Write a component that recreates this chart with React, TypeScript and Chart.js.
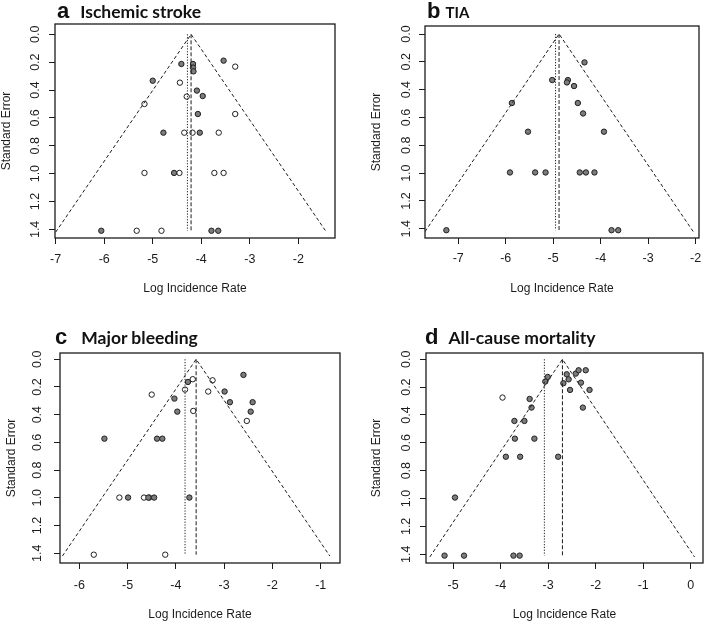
import React, { useEffect, useRef } from "react";
import { Chart, registerables } from "chart.js";

Chart.register(...registerables);

// ---------- Data (log incidence rate, standard error) ----------
// a: Ischemic stroke
const strokeFilledLogIR = [-3.54, -4.41, -4.17, -4.17, -4.16, -5.0, -4.09, -3.97, -4.07, -4.78, -4.03, -4.56, -6.06, -3.79, -3.65];
const strokeFilledSE = [0.189, 0.213, 0.213, 0.239, 0.266, 0.333, 0.404, 0.443, 0.572, 0.706, 0.706, 0.995, 1.41, 1.41, 1.41];
const strokeOpenLogIR = [-3.3, -4.44, -4.3, -5.17, -3.3, -4.35, -4.18, -3.64, -5.17, -4.45, -3.73, -3.54, -5.33, -4.82];
const strokeOpenSE = [0.232, 0.347, 0.447, 0.5, 0.572, 0.706, 0.706, 0.706, 0.995, 0.995, 0.995, 0.995, 1.41, 1.41];
// [dotted estimate, dashed estimate, funnel left end, funnel right end, funnel max SE]
const strokeFunnel = [-4.285, -4.21, -7.0, -1.42, 1.42];

// b: TIA
const tiaFilledLogIR = [-4.34, -5.02, -4.69, -4.71, -4.56, -4.48, -5.87, -4.37, -5.53, -3.93, -5.91, -5.38, -5.16, -4.44, -4.31, -4.13, -7.25, -3.77, -3.63];
const tiaFilledSE = [0.204, 0.331, 0.331, 0.348, 0.374, 0.496, 0.496, 0.571, 0.702, 0.702, 0.995, 0.995, 0.995, 0.995, 0.995, 0.995, 1.41, 1.41, 1.41];
const tiaOpenLogIR: number[] = [];
const tiaOpenSE: number[] = [];
const tiaFunnel = [-4.95, -4.876, -7.7, -2.05, 1.42];

// c: Major bleeding
const bleedFilledLogIR = [-2.6, -3.75, -2.99, -4.03, -3.97, -2.88, -2.41, -2.45, -5.48, -4.39, -4.28, -4.99, -4.57, -4.45, -3.72];
const bleedFilledSE = [0.113, 0.164, 0.233, 0.284, 0.378, 0.31, 0.31, 0.378, 0.573, 0.573, 0.573, 0.998, 0.998, 0.998, 0.998];
const bleedOpenLogIR = [-3.65, -3.24, -3.81, -4.5, -3.33, -3.64, -2.53, -5.17, -4.66, -4.55, -5.7, -4.22];
const bleedOpenSE = [0.144, 0.152, 0.219, 0.255, 0.233, 0.373, 0.445, 0.998, 0.998, 0.998, 1.41, 1.41];
const bleedFunnel = [-3.81, -3.58, -6.35, -0.81, 1.42];

// d: All-cause mortality
const mortFilledLogIR = [-2.42, -2.36, -2.21, -2.61, -2.57, -2.68, -2.31, -2.13, -2.54, -2.27, -3.01, -3.06, -3.39, -3.35, -3.71, -3.5, -3.7, -3.29, -3.89, -3.59, -2.79, -4.96, -5.18, -4.77, -3.73, -3.6];
const mortFilledSE = [0.103, 0.079, 0.079, 0.108, 0.144, 0.172, 0.168, 0.22, 0.22, 0.347, 0.127, 0.16, 0.285, 0.347, 0.443, 0.443, 0.57, 0.57, 0.7, 0.7, 0.7, 0.993, 1.41, 1.41, 1.41, 1.41];
const mortOpenLogIR = [-3.96];
const mortOpenSE = [0.275];
const mortFunnel = [-3.08, -2.7, -5.49, 0.08, 1.42];

// Axis ranges [min, max]
const strokeXRange = [-7.014, -1.244];
const strokeYRange = [-0.074, 1.462];
const tiaXRange = [-7.7, -1.928];
const tiaYRange = [-0.0575, 1.466];
const bleedXRange = [-6.4, -0.6];
const bleedYRange = [-0.045, 1.47];
const mortXRange = [-5.57, 0.257];
const mortYRange = [-0.045, 1.463];

const X_TITLE = "Log Incidence Rate";
const Y_TITLE = "Standard Error";

const AXIS_FONT = "'Liberation Sans', Arial, sans-serif";
const INK = "#1c1c1c";

type Geo = {
  cx: number; cy: number; cw: number; ch: number;
  L: number; T: number; R: number; B: number;
  xtp: number; xtb: number; ytp: number; ytt: number;
};

type Spec = {
  id: string;
  filledX: number[]; filledY: number[];
  openX: number[]; openY: number[];
  funnel: number[];
  xr: number[]; yr: number[];
  geo: Geo;
};

const zip = (xs: number[], ys: number[]) => xs.map((x, i) => ({ x, y: ys[i] }));

const boxPlugin = {
  id: "boxFrame",
  afterDatasetsDraw(chart: any) {
    const { ctx, chartArea } = chart;
    const { left, top, right, bottom } = chartArea;
    ctx.save();
    ctx.strokeStyle = INK;
    ctx.lineWidth = 1.3;
    ctx.strokeRect(left, top, right - left, bottom - top);
    ctx.restore();
  },
};

function FunnelPanel({ spec }: { spec: Spec }) {
  const ref = useRef<HTMLCanvasElement | null>(null);
  const g = spec.geo;
  useEffect(() => {
    if (!ref.current) return;
    const [dotted, dashed, fl, fr, seMax] = spec.funnel;
    const chart = new Chart(ref.current, {
      type: "scatter",
      data: {
        datasets: [
          {
            data: [{ x: fl, y: seMax }, { x: dashed, y: 0 }, { x: fr, y: seMax }],
            showLine: true, borderColor: INK, borderWidth: 1, borderDash: [3.5, 2.5],
            pointRadius: 0, fill: false,
          },
          {
            data: [{ x: dashed, y: 0 }, { x: dashed, y: 1.41 }],
            showLine: true, borderColor: INK, borderWidth: 1, borderDash: [4, 2],
            pointRadius: 0, fill: false,
          },
          {
            data: [{ x: dotted, y: 0 }, { x: dotted, y: 1.41 }],
            showLine: true, borderColor: INK, borderWidth: 1, borderDash: [1.2, 1.6],
            pointRadius: 0, fill: false,
          },
          {
            data: zip(spec.filledX, spec.filledY),
            showLine: false, pointRadius: 2.7, pointBackgroundColor: "#7c7c7c",
            pointBorderColor: "#202020", pointBorderWidth: 1,
          },
          {
            data: zip(spec.openX, spec.openY),
            showLine: false, pointRadius: 2.7, pointBackgroundColor: "#ffffff",
            pointBorderColor: "#202020", pointBorderWidth: 1,
          },
        ],
      },
      options: {
        responsive: false,
        animation: false,
        events: [],
        layout: { padding: { top: g.T - g.cy, right: g.cx + g.cw - g.R, left: 0, bottom: 0 } },
        plugins: { legend: { display: false }, tooltip: { enabled: false }, title: { display: false } },
        scales: {
          x: {
            type: "linear", position: "bottom",
            min: spec.xr[0], max: spec.xr[1],
            ticks: {
              stepSize: 1, includeBounds: false, color: INK, maxRotation: 0, minRotation: 0,
              font: { family: AXIS_FONT, size: 12.5 }, padding: g.xtp, autoSkip: false,
              callback: (v: any) => String(Math.round(Number(v))),
            },
            grid: { display: true, drawOnChartArea: false, drawTicks: true, tickLength: 6, color: INK, lineWidth: 1 },
            border: { display: false },
            title: {
              display: true, text: X_TITLE, color: INK,
              font: { family: AXIS_FONT, size: 12 }, padding: { top: 0, bottom: g.xtb },
            },
            afterFit: (s: any) => { s.height = g.cy + g.ch - g.B; },
          },
          y: {
            type: "linear", position: "left", reverse: true,
            min: spec.yr[0], max: spec.yr[1],
            ticks: {
              stepSize: 0.2, includeBounds: false, color: INK, minRotation: 90, maxRotation: 90,
              crossAlign: "center", font: { family: AXIS_FONT, size: 12.5 }, padding: g.ytp, autoSkip: false,
              callback: (v: any) => Number(v).toFixed(1),
            },
            grid: { display: true, drawOnChartArea: false, drawTicks: true, tickLength: 6, color: INK, lineWidth: 1 },
            border: { display: false },
            title: {
              display: true, text: Y_TITLE, color: INK,
              font: { family: AXIS_FONT, size: 12 }, padding: { top: g.ytt, bottom: 0 },
            },
            afterFit: (s: any) => { s.width = g.L - g.cx; },
          },
        },
      } as any,
      plugins: [boxPlugin],
    });
    return () => chart.destroy();
  }, []);
  return (
    <canvas
      ref={ref}
      width={g.cw}
      height={g.ch}
      style={{ position: "absolute", left: g.cx, top: g.cy, width: g.cw, height: g.ch }}
    />
  );
}

const panels: Spec[] = [
  {
    id: "a", filledX: strokeFilledLogIR, filledY: strokeFilledSE, openX: strokeOpenLogIR, openY: strokeOpenSE,
    funnel: strokeFunnel, xr: strokeXRange, yr: strokeYRange,
    geo: { cx: 0, cy: 0, cw: 354, ch: 305, L: 55, T: 24, R: 335, B: 238, xtp: 8.3, xtb: 9.5, ytp: 4.6, ytt: -0.5 },
  },
  {
    id: "b", filledX: tiaFilledLogIR, filledY: tiaFilledSE, openX: tiaOpenLogIR, openY: tiaOpenSE,
    funnel: tiaFunnel, xr: tiaXRange, yr: tiaYRange,
    geo: { cx: 354, cy: 0, cw: 354, ch: 305, L: 425, T: 26, R: 705, B: 238, xtp: 6.8, xtb: 9.5, ytp: 3.8, ytt: 15.8 },
  },
  {
    id: "c", filledX: bleedFilledLogIR, filledY: bleedFilledSE, openX: bleedOpenLogIR, openY: bleedOpenSE,
    funnel: bleedFunnel, xr: bleedXRange, yr: bleedYRange,
    geo: { cx: 0, cy: 311, cw: 354, ch: 311, L: 60, T: 353, R: 340, B: 563, xtp: 9.5, xtb: 0.5, ytp: 7.8, ytt: 4.5 },
  },
  {
    id: "d", filledX: mortFilledLogIR, filledY: mortFilledSE, openX: mortOpenLogIR, openY: mortOpenSE,
    funnel: mortFunnel, xr: mortXRange, yr: mortYRange,
    geo: { cx: 354, cy: 311, cw: 354, ch: 311, L: 426, T: 353, R: 705, B: 563, xtp: 9.5, xtb: 0.5, ytp: 4.8, ytt: 15.8 },
  },
];

const panelTitles = [
  { letter: "a", name: "Ischemic stroke", left: 57, top: 0, gap: 11, size: 17.5 },
  { letter: "b", name: "TIA", left: 427, top: 0, gap: 5, size: 15 },
  { letter: "c", name: "Major bleeding", left: 55, top: 326, gap: 14, size: 17.5 },
  { letter: "d", name: "All-cause mortality", left: 425, top: 326, gap: 10, size: 17.5 },
];

export default function App() {
  return (
    <div
      style={{
        position: "absolute", left: 0, top: 0, width: 708, height: 622,
        background: "#ffffff", overflow: "hidden",
      }}
    >
      {panels.map((p) => (
        <FunnelPanel key={p.id} spec={p} />
      ))}
      {panelTitles.map((t) => (
        <div
          key={t.letter}
          style={{
            position: "absolute", left: t.left, top: t.top, height: 22, lineHeight: "22px",
            whiteSpace: "nowrap", color: "#111",
          }}
        >
          <span style={{ fontFamily: "'Liberation Sans', Arial, sans-serif", fontWeight: 700, fontSize: 22 }}>
            {t.letter}
          </span>
          <span style={{ fontFamily: "Lato, 'Open Sans', sans-serif", fontWeight: 700, fontSize: t.size, marginLeft: t.gap }}>
            {t.name}
          </span>
        </div>
      ))}
    </div>
  );
}
